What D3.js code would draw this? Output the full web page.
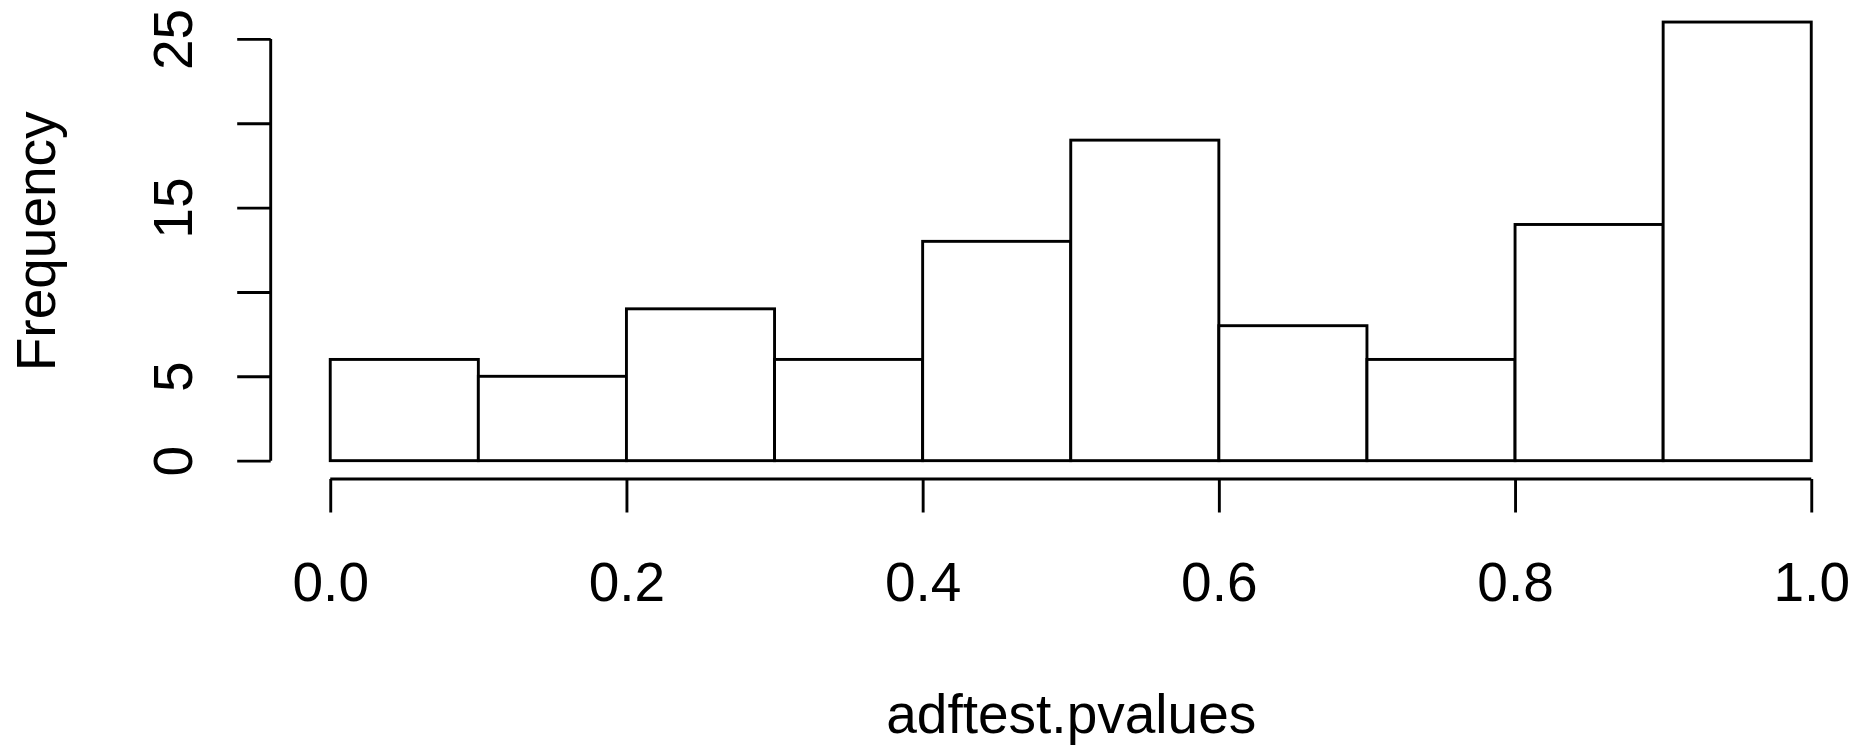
<!DOCTYPE html>
<html>
<head>
<meta charset="utf-8">
<script src="https://cdn.jsdelivr.net/npm/d3@7"></script>
<style>
  html, body { margin: 0; padding: 0; background: #fff; }
  svg { display: block; }
  text { font-family: "Liberation Sans", Arial, Helvetica, sans-serif; fill: #000; }
</style>
</head>
<body>
<svg id="chart" width="1873" height="746"></svg>
<script>
// ---- data ----
const binEdges = [0.0, 0.1, 0.2, 0.3, 0.4, 0.5, 0.6, 0.7, 0.8, 0.9, 1.0];
const counts = [6, 5, 9, 6, 13, 19, 8, 6, 14, 26];
const xTicks = [0.0, 0.2, 0.4, 0.6, 0.8, 1.0];
const xTickLabels = ["0.0", "0.2", "0.4", "0.6", "0.8", "1.0"];
const yTicks = [0, 5, 10, 15, 20, 25];
const yTickLabels = ["0", "5", "", "15", "", "25"];
const xTitle = "adftest.pvalues";
const yTitle = "Frequency";

// ---- layout ----
const W = 1873, H = 746;
const plotLeft = 271, plotRight = 1870.5, plotTop = 4.5, plotBottom = 478.2;
const fontSize = 55;
const lw = 2.9;

const svg = d3.select("#chart");

const x = d3.scaleLinear().domain([-0.04, 1.04]).range([plotLeft, plotRight]);
const y = d3.scaleLinear().domain([-1.04, 27.04]).range([plotBottom, plotTop]);

// ---- bars ----
const bins = counts.map((c, i) => ({ x0: binEdges[i], x1: binEdges[i + 1], count: c }));
svg.append("g")
  .selectAll("rect")
  .data(bins)
  .join("rect")
  .attr("x", d => x(d.x0))
  .attr("y", d => y(d.count))
  .attr("width", d => x(d.x1) - x(d.x0))
  .attr("height", d => y(0) - y(d.count))
  .attr("fill", "#fff")
  .attr("stroke", "#000")
  .attr("stroke-width", lw);

// ---- x axis (R style) ----
const tickLen = 33.5;
const xAxisY = plotBottom + 0.8;
const xAxis = d3.axisBottom(x).tickValues(xTicks).tickSize(tickLen).tickSizeOuter(0)
  .tickFormat((d, i) => xTickLabels[i]);
const gx = svg.append("g").attr("transform", `translate(0,${xAxisY})`).call(xAxis);
gx.select(".domain").remove();
gx.append("line")
  .attr("x1", x(xTicks[0])).attr("x2", x(xTicks[xTicks.length - 1]))
  .attr("y1", 0).attr("y2", 0);
gx.selectAll("line").attr("stroke", "#000").attr("stroke-width", lw).attr("stroke-linecap", "butt");
gx.selectAll(".tick text")
  .attr("y", 601 - xAxisY)
  .attr("dy", null)
  .attr("font-size", fontSize)
  .attr("font-family", "Liberation Sans, Arial, sans-serif")
  .attr("fill", "#000")
  .attr("text-anchor", "middle");

// ---- y axis (R style) ----
const yAxisX = plotLeft - 0.3;
const yAxis = d3.axisLeft(y).tickValues(yTicks).tickSize(tickLen).tickSizeOuter(0)
  .tickFormat((d, i) => yTickLabels[i]);
const gy = svg.append("g").attr("transform", `translate(${yAxisX},0)`).call(yAxis);
gy.select(".domain").remove();
gy.append("line")
  .attr("x1", 0).attr("x2", 0)
  .attr("y1", y(yTicks[0])).attr("y2", y(yTicks[yTicks.length - 1]));
gy.selectAll("line").attr("stroke", "#000").attr("stroke-width", lw).attr("stroke-linecap", "butt");
gy.selectAll(".tick text")
  .attr("x", null).attr("dy", null)
  .attr("transform", `translate(${192 - yAxisX},0) rotate(-90)`)
  .attr("font-size", fontSize)
  .attr("font-family", "Liberation Sans, Arial, sans-serif")
  .attr("fill", "#000")
  .attr("text-anchor", "middle");

// ---- titles ----
svg.append("text")
  .attr("x", (x(0) + x(1)) / 2 + 0.5)
  .attr("y", 733)
  .attr("text-anchor", "middle")
  .attr("font-size", fontSize)
  .text(xTitle);

svg.append("text")
  .attr("transform", `translate(55,${(plotTop + plotBottom) / 2}) rotate(-90)`)
  .attr("text-anchor", "middle")
  .attr("font-size", fontSize)
  .text(yTitle);
</script>
</body>
</html>
